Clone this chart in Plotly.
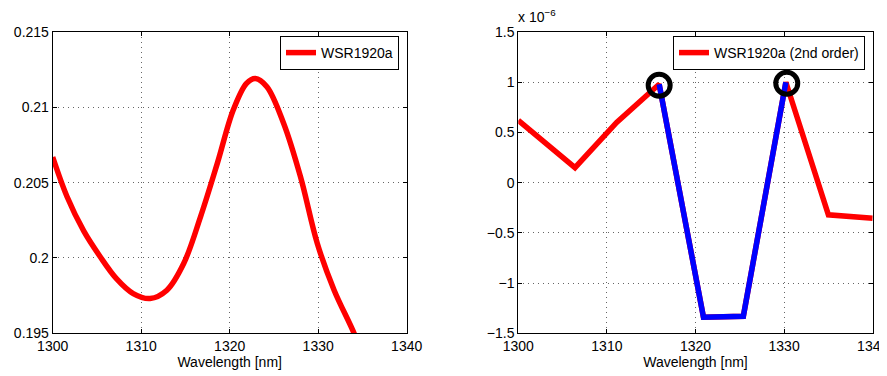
import plotly.graph_objects as go

# Left panel: WSR1920a
left_wl = [1300.0, 1301.6, 1303.5, 1305.35, 1307.2, 1309.1, 1311.0, 1312.9, 1314.8, 1316.7,
           1318.6, 1320.4, 1321.9, 1322.9, 1324.2, 1326.1, 1328.0, 1329.9, 1331.8, 1334.05, 1335.0]
left_val = [0.2067, 0.2041, 0.2018, 0.2001, 0.19863, 0.19764, 0.19731, 0.19786, 0.19963, 0.20273,
            0.20628, 0.20982, 0.21159, 0.21192, 0.21137, 0.20893, 0.20539, 0.20096, 0.19786, 0.1950, 0.1935]

# Right panel: WSR1920a (2nd order), values in units of 1e-6
right_wl = [1300.0, 1306.4, 1311.1, 1315.9, 1320.9, 1325.4, 1330.2, 1335.0, 1340.0]
right_val = [0.62, 0.15, 0.60, 0.98, -1.34, -1.33, 1.0, -0.32, -0.355]
blue_wl = [1315.9, 1320.9, 1325.4, 1330.2]
blue_val = [0.98, -1.34, -1.33, 1.0]
peak_wl = [1315.9, 1330.3]
peak_val = [0.97, 0.99]

x_ticks = [1300, 1310, 1320, 1330, 1340]
x_ticktext = ["1300", "1310", "1320", "1330", "1340"]
left_yticks = [0.195, 0.2, 0.205, 0.21, 0.215]
left_yticktext = ["0.195", "0.2", "0.205", "0.21", "0.215"]
right_yticks = [-1.5, -1, -0.5, 0, 0.5, 1, 1.5]
right_yticktext = ["\u22121.5", "\u22121", "\u22120.5", "0", "0.5", "1", "1.5"]

FONT = "Liberation Sans, Arial, Helvetica, sans-serif"

# The page body has an 8px margin, so the figure is 8px smaller than the window
W, H = 879, 368

def fx(px):
    return (px - 8) / W

def fy(py):
    return 1 - (py - 8) / H

fig = go.Figure()
fig.add_trace(go.Scatter(x=left_wl, y=left_val, mode="lines", name="WSR1920a",
                         line=dict(color="#ff0000", width=5.5, shape="spline", smoothing=1.0),
                         xaxis="x", yaxis="y", legend="legend"))
fig.add_trace(go.Scatter(x=right_wl, y=right_val, mode="lines", name="WSR1920a (2nd order)",
                         line=dict(color="#ff0000", width=5.5),
                         xaxis="x2", yaxis="y2", legend="legend2"))
fig.add_trace(go.Scatter(x=blue_wl, y=blue_val, mode="lines", showlegend=False,
                         line=dict(color="#0000ff", width=5.5),
                         xaxis="x2", yaxis="y2"))
fig.add_trace(go.Scatter(x=peak_wl, y=peak_val, mode="markers", showlegend=False,
                         marker=dict(symbol="circle-open", size=22, color="black",
                                     line=dict(width=5, color="black")),
                         xaxis="x2", yaxis="y2", cliponaxis=False))

axis_common = dict(showline=True, linecolor="black", linewidth=1, mirror="ticks",
                   ticks="inside", ticklen=4, tickcolor="black", automargin=False,
                   ticklabeloverflow="allow",
                   showgrid=True, gridcolor="rgba(0,0,0,0.6)", griddash="1px,4px", gridwidth=1,
                   zeroline=False, tickfont=dict(size=14, color="black", family=FONT))

fig.update_layout(
    width=W, height=H,
    margin=dict(l=0, r=0, t=0, b=0),
    paper_bgcolor="white", plot_bgcolor="white",
    font=dict(family=FONT, color="black", size=14),
    xaxis=dict(domain=[fx(52.7), fx(406.7)], range=[1300, 1340], tickvals=x_ticks, ticktext=x_ticktext,
               title=dict(text="Wavelength [nm]", standoff=0, font=dict(size=14)), anchor="y", **axis_common),
    yaxis=dict(domain=[fy(333.3), fy(32)], range=[0.195, 0.215], tickvals=left_yticks,
               ticktext=left_yticktext, anchor="x", **axis_common),
    xaxis2=dict(domain=[fx(518.3), fx(872.7)], range=[1300, 1340], tickvals=x_ticks, ticktext=x_ticktext,
                title=dict(text="Wavelength [nm]", standoff=0, font=dict(size=14)), anchor="y2", **axis_common),
    yaxis2=dict(domain=[fy(333.3), fy(32)], range=[-1.5, 1.5], tickvals=right_yticks,
                ticktext=right_yticktext, anchor="x2", **axis_common),
    legend=dict(x=fx(399), y=fy(36), xanchor="right", yanchor="top", bgcolor="white",
                bordercolor="black", borderwidth=1, font=dict(size=14, family=FONT)),
    legend2=dict(x=fx(865), y=fy(36), xanchor="right", yanchor="top", bgcolor="white",
                 bordercolor="black", borderwidth=1, font=dict(size=14, family=FONT)),
    annotations=[dict(text="x 10<sup>\u22126</sup>", xref="paper", yref="paper", x=fx(516), y=fy(27),
                      xanchor="left", yanchor="bottom", showarrow=False,
                      font=dict(size=14, family=FONT, color="black"))],
)

fig.write_html("out.html")
